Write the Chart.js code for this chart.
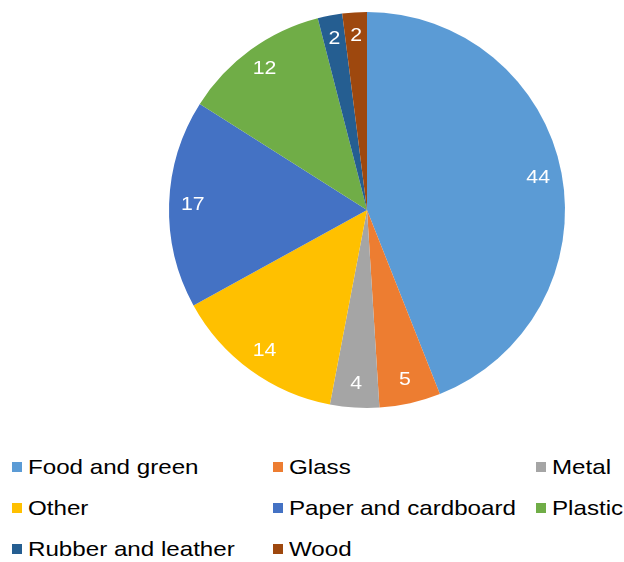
<!DOCTYPE html>
<html>
<head>
<meta charset="utf-8">
<script src="https://cdn.jsdelivr.net/npm/chart.js@4/dist/chart.umd.min.js"></script>
<style>
	html, body { margin: 0; padding: 0; background: #fff; }
	#wrap { position: relative; width: 624px; height: 562px; overflow: hidden; }
	#pieBox { position: absolute; left: 0; top: 0; width: 624px; height: 430px; }
	.leg { position: absolute; font-family: "Liberation Sans", Arial, sans-serif; font-size: 21px; color: #000; white-space: nowrap; line-height: 20px; }
	.leg span { display: inline-block; transform: scaleX(1.15); transform-origin: 0 50%; }
	.leg i { position: absolute; width: 10px; height: 10px; top: 5px; }
</style>
</head>
<body>
<div id="wrap">
	<div id="pieBox"><canvas id="wastePie"></canvas></div>
	<div id="legendBox"></div>
</div>
<script>
	// waste composition (%)
	var categories = ["Food and green", "Glass", "Metal", "Other", "Paper and cardboard", "Plastic", "Rubber and leather", "Wood"];
	var shares = [44, 5, 4, 14, 17, 12, 2, 2];
	var colors = ["#5b9bd5", "#ed7d31", "#a5a5a5", "#ffc000", "#4472c4", "#70ad47", "#255e91", "#9e480e"];

	// value labels inside each slice
	var sliceLabels = {
		id: "sliceLabels",
		afterDatasetsDraw: function(chart) {
			var ctx = chart.ctx;
			var meta = chart.getDatasetMeta(0);
			ctx.save();
			ctx.fillStyle = "#fff";
			ctx.font = "19px 'Liberation Sans', Arial, sans-serif";
			ctx.textAlign = "center";
			ctx.textBaseline = "middle";
			for (var i = 0; i < meta.data.length; i++) {
				var arc = meta.data[i];
				var mid = (arc.startAngle + arc.endAngle) / 2;
				var r = arc.outerRadius * 0.88;
				var x = arc.x + Math.cos(mid) * r;
				var y = arc.y + Math.sin(mid) * r;
				ctx.save();
				ctx.translate(x, y);
				ctx.scale(1.12, 1);
				ctx.fillText(chart.data.datasets[0].data[i], 0, 0);
				ctx.restore();
			} // end for
			ctx.restore();
		}
	};

	var chart = new Chart(document.getElementById("wastePie"), {
		type: "pie",
		data: {
			labels: categories,
			datasets: [{
				data: shares,
				backgroundColor: colors,
				borderWidth: 0
			}]
		},
		options: {
			responsive: true,
			maintainAspectRatio: false,
			animation: false,
			layout: { padding: { left: 169, right: 59, top: 12, bottom: 22 } },
			plugins: {
				legend: { display: false },
				tooltip: { enabled: false }
			}
		},
		plugins: [sliceLabels]
	}); // end chart

	// legend in three columns
	var colX = [12, 273, 536];
	var rowY = [457, 498, 539];
	var legendBox = document.getElementById("legendBox");
	for (var i = 0; i < categories.length; i++) {
		var item = document.createElement("div");
		item.className = "leg";
		item.style.left = colX[i % 3] + "px";
		item.style.top = rowY[Math.floor(i / 3)] + "px";
		item.style.paddingLeft = "16px";
		item.innerHTML = '<i style="left:0;background:' + colors[i] + '"></i><span>' + categories[i] + '</span>';
		legendBox.appendChild(item);
	} // end for
</script>
</body>
</html>
